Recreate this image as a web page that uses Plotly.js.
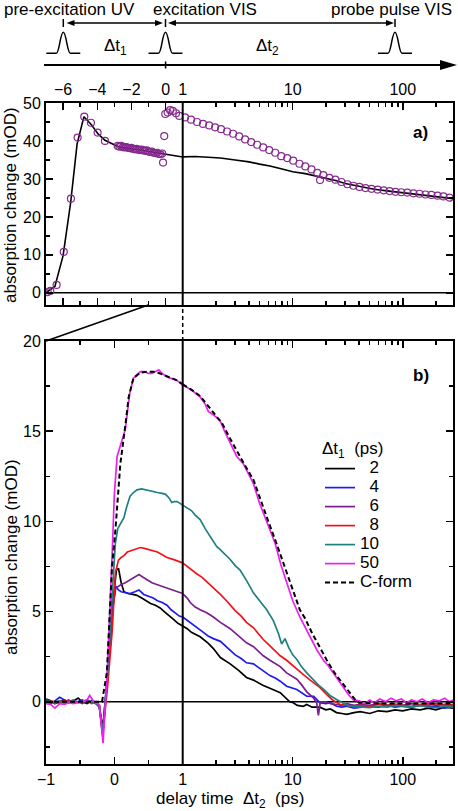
<!DOCTYPE html>
<html><head><meta charset="utf-8">
<script src="https://cdn.plot.ly/plotly-3.0.1.min.js"></script>
<style>html,body{margin:0;padding:0;background:#fff}</style>
</head><body><div id="chart" style="width:458px;height:811px"></div>
<script>
// ---------- Panel a) data (pre-excitation delay Δt1 then Δt2) ----------
const tA_circ = [-6.9,-6.75,-6.38,-5.96,-5.54,-5.15,-4.76,-4.37,-3.98,-3.55,
  -2.8,-2.7,-2.6,-2.5,-2.4,-2.3,-2.2,-2.1,-2.0,-1.9,-1.8,-1.7,-1.6,-1.5,-1.4,-1.3,-1.2,-1.1,-1.0,-0.9,-0.8,-0.7,-0.6,-0.5,-0.4,-0.3,-0.2,
  -0.15,-0.08,-0.02,0.12,0.26,0.42,0.61,0.8,
  1.05,1.19,1.35,1.53,1.74,1.97,2.23,2.53,2.87,3.26,3.69,4.19,4.75,5.39,6.11,6.93,7.86,8.91,10.1,11.5,13.0,14.8,16.7,17.7,19.0,21.5,24.4,27.7,31.4,35.6,40.4,45.8,52,59,67,76,86,97,110,125,142,161,182,207,234,266];
const vA_circ = [0.2,0.5,2.1,10.8,24.8,40.9,46.4,44.8,42.2,40.0,
  38.7,38.5,38.7,38.4,38.3,38.4,38.2,38.1,38.2,37.9,37.8,37.9,37.7,37.6,37.7,37.5,37.4,37.5,37.2,37.1,37.2,36.9,36.8,36.9,36.6,36.5,36.7,
  34.3,41.3,47.1,47.5,48.1,47.9,47.3,46.6,
  46.2,45.6,45.0,44.5,44.1,43.6,43.1,42.5,41.9,41.2,40.4,39.7,39.0,38.3,37.6,36.9,36.0,35.5,34.8,34.0,33.3,32.5,31.6,29.7,31.0,30.3,29.8,29.2,28.6,28.2,27.9,27.6,27.4,27.2,27.0,26.8,26.6,26.5,26.4,26.2,26.1,25.9,25.8,25.6,25.4,25.1];
const tA_line = [-7,-6.48,-6.0,-5.56,-5.18,-4.78,-4.33,-3.94,-3.55,-2.77,-1.5,-0.23,1.0,
  1.3,1.7,2.2,3.0,4.0,5.0,6.2,8.0,10,13,16,20,25,30,40,55,75,100,140,200,286];
const vA_line = [0.1,1.7,9.8,23.7,39.2,46.4,44.2,41.8,40.2,38.5,37.6,36.7,35.8,
  35.9,35.7,35.5,35.0,34.5,33.9,33.4,32.6,31.9,31.4,30.8,30.2,29.5,28.8,28.0,27.3,26.8,26.4,25.9,25.4,24.8];

// ---------- Panel b) data: delay time Δt2 (ps) and absorption change (mOD) ----------
const t_2ps = [-1,-0.93,-0.87,-0.8,-0.73,-0.67,-0.6,-0.53,-0.47,-0.4,-0.33,-0.27,-0.22,-0.17,-0.1,-0.03,0.03,0.06,0.1,0.14,0.2,0.27,0.33,0.4,0.47,0.53,0.6,0.67,0.73,0.8,0.87,0.93,1.0,
  1.1,1.2,1.44,1.7,1.9,2.2,2.7,3.2,3.8,4.4,5.4,6.2,7.7,9.4,10.1,11,12.5,13.4,15,17.6,20,22,25,28,31,36,41,50,60,72,85,100,120,144,170,200,240,286];
const dA_2ps = [0.15,0.05,-0.1,0.0,0.1,-0.05,0.05,0.2,0.0,-0.1,0.05,-0.05,-0.2,-1.5,1.5,5.2,7.3,7.4,6.6,6.1,6.0,5.95,5.9,5.75,5.6,5.45,5.35,5.2,5.0,4.8,4.55,4.35,4.2,
  4.05,3.85,3.6,3.25,2.95,2.45,2.1,1.75,1.35,1.2,0.9,0.75,0.5,0.0,-0.05,-0.2,-0.25,-0.15,-0.3,-0.3,-0.45,-0.4,-0.6,-0.65,-0.7,-0.6,-0.55,-0.65,-0.5,-0.55,-0.45,-0.5,-0.4,-0.45,-0.35,-0.45,-0.3,-0.35];

const t_4ps = [-1,-0.93,-0.87,-0.8,-0.73,-0.67,-0.6,-0.53,-0.47,-0.4,-0.33,-0.27,-0.22,-0.17,-0.1,-0.03,0.02,0.06,0.1,0.16,0.23,0.3,0.36,0.43,0.5,0.57,0.63,0.7,0.77,0.83,0.9,0.95,1.0,
  1.1,1.2,1.34,1.5,1.7,1.9,2.2,2.5,2.7,3.0,3.4,3.8,4.4,5.0,5.4,6.2,7.0,7.7,8.8,10,10.9,13.4,15.5,17.6,20,22,25,28,31,36,41,50,60,72,85,100,120,144,170,200,240,286];
const dA_4ps = [0.0,-0.1,0.05,0.25,0.1,-0.05,0.05,0.0,0.1,-0.05,0.0,-0.1,-0.3,-1.7,1.5,5.0,6.4,6.2,6.1,6.05,6.0,6.1,6.2,5.95,5.85,5.75,5.6,5.5,5.35,5.1,4.9,4.75,4.7,
  4.5,4.35,4.1,3.9,3.65,3.5,3.35,3.05,2.85,2.6,2.4,2.16,2.1,1.85,1.7,1.45,1.3,1.14,0.86,0.75,0.68,0.31,0.3,-0.05,-0.1,-0.05,-0.25,-0.3,-0.25,-0.35,-0.3,-0.25,-0.3,-0.2,-0.3,-0.25,-0.3,-0.2,-0.3,-0.25,-0.35,-0.25];

const t_6ps = [-1,-0.93,-0.87,-0.8,-0.73,-0.67,-0.6,-0.53,-0.47,-0.4,-0.33,-0.27,-0.22,-0.17,-0.1,-0.03,0.02,0.06,0.1,0.16,0.23,0.3,0.36,0.42,0.48,0.55,0.62,0.7,0.77,0.84,0.9,0.95,1.0,
  1.1,1.17,1.3,1.44,1.65,1.9,2.2,2.7,3.0,3.4,3.8,4.4,5.0,5.4,6.2,7.0,7.7,8.8,10,10.9,12,13.4,15.5,16.5,17.1,17.8,20,22,25,28,31,36,41,50,60,72,85,100,120,144,170,200,240,286];
const dA_6ps = [0.05,0.0,-0.1,0.05,0.0,0.1,-0.05,0.0,-0.1,0.05,-0.05,0.0,-0.25,-1.9,1.3,5.0,6.3,6.4,6.5,6.6,6.75,6.9,7.05,6.9,6.75,6.6,6.5,6.4,6.3,6.2,6.15,6.1,6.0,
  5.75,5.5,5.25,5.1,4.93,4.7,4.4,4.05,3.8,3.5,3.27,3.05,2.75,2.55,2.3,2.1,1.95,1.6,1.4,1.25,0.95,0.55,0.2,-0.05,-0.75,0.0,0.0,-0.1,-0.15,-0.2,-0.1,-0.2,-0.15,-0.2,-0.1,-0.2,-0.15,-0.2,-0.1,-0.2,-0.1,-0.2,-0.15,-0.2];

const t_8ps = [-1,-0.93,-0.87,-0.8,-0.73,-0.67,-0.6,-0.53,-0.47,-0.4,-0.33,-0.27,-0.22,-0.17,-0.1,-0.03,0.015,0.06,0.1,0.14,0.19,0.26,0.32,0.38,0.44,0.5,0.56,0.63,0.7,0.77,0.87,0.93,1.0,
  1.1,1.2,1.34,1.5,1.7,1.9,2.2,2.5,2.7,3.0,3.4,3.8,4.4,5.0,5.4,6.2,7.0,7.7,8.8,10,10.9,12.5,14.4,15.5,17.6,20.4,23,27,31,36,41,50,60,72,85,100,120,144,170,200,240,286];
const dA_8ps = [-0.05,0.05,0.0,-0.1,0.05,0.0,0.1,-0.05,0.0,0.05,-0.1,0.0,-0.2,-1.8,0.8,4.0,7.15,7.85,8.0,8.1,8.3,8.4,8.5,8.55,8.5,8.45,8.4,8.3,8.15,8.0,7.88,7.8,7.7,
  7.5,7.3,7.1,6.9,6.6,6.3,5.95,5.6,5.35,5.05,4.75,4.4,4.1,3.7,3.45,3.1,2.8,2.55,2.3,2.0,1.8,1.5,1.2,1.05,0.8,0.4,0.1,-0.15,-0.2,-0.25,-0.2,-0.25,-0.15,-0.2,-0.15,-0.2,-0.25,-0.15,-0.2,-0.1,-0.2,-0.15];

const t_10ps = [-1,-0.93,-0.87,-0.8,-0.73,-0.67,-0.6,-0.53,-0.47,-0.4,-0.33,-0.27,-0.22,-0.17,-0.1,-0.03,0.015,0.05,0.1,0.14,0.18,0.23,0.28,0.33,0.4,0.45,0.52,0.57,0.63,0.7,0.75,0.8,0.84,0.88,0.92,0.96,1.0,
  1.1,1.2,1.3,1.44,1.6,1.77,2.04,2.18,2.4,2.69,3.0,3.32,3.82,4.39,5.0,5.8,6.66,7.4,7.93,8.5,9.2,10,10.9,12,13.4,14.4,16,17.6,19,21.8,25,29,33,40,50,60,72,85,101,120,144,170,204,240,286];
const dA_10ps = [0.1,0.0,-0.05,0.05,-0.1,0.0,0.05,-0.05,0.0,0.1,0.0,-0.1,-0.2,-1.8,1.5,6.0,8.8,9.6,9.9,10.2,10.8,11.4,11.6,11.75,11.8,11.75,11.7,11.65,11.6,11.55,11.5,11.3,11.05,11.1,11.1,11.0,10.9,
  10.75,10.6,10.35,10.1,9.6,9.2,8.6,8.45,8.2,7.9,7.55,7.3,6.7,6.04,5.6,5.1,4.5,3.8,3.2,3.5,3.0,2.6,2.34,1.95,1.6,1.4,1.1,0.86,0.7,0.35,0.13,-0.1,-0.25,-0.3,-0.33,-0.25,-0.3,-0.2,-0.25,-0.3,-0.2,-0.3,-0.33,-0.25,-0.3];

const t_50ps = [-1,-0.93,-0.87,-0.8,-0.73,-0.67,-0.6,-0.53,-0.47,-0.4,-0.36,-0.3,-0.22,-0.165,-0.1,-0.03,0.0,0.04,0.1,0.16,0.225,0.28,0.33,0.38,0.44,0.5,0.55,0.6,0.65,0.7,0.77,0.85,0.92,1.0,
  1.12,1.25,1.44,1.6,1.71,1.9,2.18,2.4,2.69,3.1,3.55,4.0,4.39,5.0,6.0,6.9,7.8,8.8,10,11.6,13,14.4,16.5,19,21,23.4,26,28.8,32,35.6,40,45,50,55,62,70,78,87,97,108,120,135,150,170,190,215,240,265,286];
const dA_50ps = [-0.1,-0.15,-0.35,-0.1,-0.15,-0.05,-0.1,-0.05,0.0,0.1,0.35,0.0,-0.15,-2.3,2.0,8.4,11.5,13.6,14.3,15.1,17.1,17.95,18.1,18.3,18.3,18.2,18.2,18.3,18.4,18.2,18.0,17.9,17.8,17.55,
  17.4,17.2,16.9,16.5,16.1,15.9,15.6,15.0,14.35,13.6,13.2,12.6,12.1,11.0,9.7,8.8,7.6,6.6,5.6,4.7,4.1,3.6,2.9,2.3,2.0,1.6,1.2,0.86,0.4,0.1,0.05,-0.1,0.1,-0.05,0.15,0.0,0.2,0.05,0.15,-0.05,0.1,0.0,0.15,-0.05,0.1,0.05,0.2,0.0,0.1];

const t_Cform = [-1,-0.6,-0.25,-0.18,-0.11,-0.034,0.015,0.088,0.16,0.21,0.28,0.38,0.5,0.6,0.7,0.8,0.9,1.0,
  1.2,1.44,1.7,2.0,2.3,2.69,3.1,3.6,4.4,5.0,6.0,7.0,8.0,9.0,10,11.6,13,15,17,20.4,24,27,30,33,37,40,60,100,150,286];
const dA_Cform = [0.0,0.0,0.0,0.0,1.6,7.5,9.5,13.2,15.3,16.9,17.95,18.25,18.3,18.3,18.15,18.0,17.85,17.6,
  17.3,16.95,16.4,15.9,15.4,14.6,13.9,13.2,12.3,11.4,10.0,8.9,7.9,7.0,6.3,5.1,4.6,3.8,3.2,2.3,1.6,1.2,0.85,0.5,0.1,-0.05,-0.1,-0.1,-0.1,-0.1];

const legendNames = ['\u20072','\u20074','\u20076','\u20078','10','50','C-form'];
const seriesT = [t_2ps,t_4ps,t_6ps,t_8ps,t_10ps,t_50ps,t_Cform];
const seriesV = [dA_2ps,dA_4ps,dA_6ps,dA_8ps,dA_10ps,dA_50ps,dA_Cform];
const colors = ['#000000','#1c1cf0','#7a1f8c','#f0141a','#1f8080','#f01ef0','#000000'];
const dashes = ['solid','solid','solid','solid','solid','solid','5px,3px'];

const tickLinB = [-1,0,1], tickLogB = [10,100];
const tickLinA = [-6,-4,-2,0], tickLogA = [1,10,100];

// ---------- geometry helpers (pixel -> paper) ----------
const W = 458, H = 811, ML = 46, MR = 5, MT = 103, MB = 47;
const PW = W-ML-MR, PH = H-MT-MB;
const px = X => (X-ML)/PW;
const py = Y => (H-MB-Y)/PH;
const dLin = px(182.7);
const domA = [py(305), 1];
const domB = [0, py(341)];
const FONT = '"Liberation Sans", Arial, Helvetica, sans-serif';

function part(t, v, lin){
  const x=[], y=[];
  t.forEach((ti,i)=>{ if(lin ? ti<=1 : ti>=1){ x.push(ti); y.push(v[i]); } });
  return {x,y};
}

const traces = [];
// panel a
[true,false].forEach(lin=>{
  const l = part(tA_line, vA_line, lin);
  traces.push({type:'scatter', mode:'lines', x:l.x, y:l.y, xaxis: lin?'x3':'x4', yaxis:'y2',
    line:{color:'#000', width:1.6}, showlegend:false, hoverinfo:'skip'});
  const c = part(tA_circ, vA_circ, lin);
  traces.push({type:'scatter', mode:'markers', x:c.x, y:c.y, xaxis: lin?'x3':'x4', yaxis:'y2',
    marker:{symbol:'circle-open', size:7, color:'#86298f', line:{width:1.2, color:'#86298f'}}, showlegend:false, hoverinfo:'skip'});
});
// panel b
[true,false].forEach(lin=>{
  seriesT.forEach((t,i)=>{
    const p = part(t, seriesV[i], lin);
    traces.push({type:'scatter', mode:'lines', x:p.x, y:p.y, xaxis: lin?'x':'x2', yaxis:'y',
      name:'<span style="font-size:17px">'+legendNames[i]+'</span>', showlegend: lin,
      line:{color:colors[i], width: i===6?2:1.7, dash:dashes[i]}, hoverinfo:'skip'});
  });
});
traces.push({type:'scatter', x:[], y:[], xaxis:'x2', yaxis:'y3', showlegend:false});
traces.push({type:'scatter', x:[], y:[], xaxis:'x4', yaxis:'y4', showlegend:false});

const axBase = {showgrid:false, zeroline:false, showline:true, linewidth:2, linecolor:'#000',
  ticks:'inside', ticklen:7, tickwidth:1.5, tickcolor:'#000', tickfont:{size:16, family:FONT, color:'#000'}};
const minorB = (vals)=>({tickmode:'array', tickvals:vals, ticks:'inside', ticklen:4, tickwidth:1.5, tickcolor:'#000'});
const logMinor = [2,3,4,5,6,7,8,9,20,30,40,50,60,70,80,90,200];

const layout = {
  width:W, height:H, margin:{l:ML, r:MR, t:MT, b:MB},
  paper_bgcolor:'#fff', plot_bgcolor:'rgba(0,0,0,0)',
  font:{family:FONT, size:16, color:'#000'},
  showlegend:true,
  legend:{x:px(320), y:py(432), xanchor:'left', yanchor:'top', bgcolor:'rgba(0,0,0,0)', borderwidth:0,
    font:{size:12, family:FONT}, title:{text:'\u0394t<sub>1</sub>\u00a0\u00a0(ps)', font:{size:17, family:FONT}}, tracegroupgap:0},
  xaxis: Object.assign({}, axBase, {domain:[0,dLin], anchor:'y', range:[-1,1], tickmode:'array', tickvals:tickLinB, mirror:'ticks', minor:minorB([-0.5,0.5])}),
  xaxis2: Object.assign({}, axBase, {domain:[dLin,1], anchor:'y', type:'log', range:[0, Math.log10(286)], tickmode:'array', tickvals:tickLogB, mirror:'ticks', minor:minorB(logMinor)}),
  yaxis: Object.assign({}, axBase, {domain:domB, anchor:'x', range:[-3.45,20], tickmode:'array', tickvals:[0,5,10,15,20], mirror:false, minor:minorB([-2.5,2.5,7.5,12.5,17.5])}),
  yaxis3: Object.assign({}, axBase, {overlaying:'y', anchor:'x2', side:'right', range:[-3.45,20], tickmode:'array', tickvals:[0,5,10,15,20], showticklabels:false, minor:minorB([-2.5,2.5,7.5,12.5,17.5])}),
  xaxis3: Object.assign({}, axBase, {domain:[0,dLin], anchor:'y2', side:'top', range:[-7,1], tickmode:'array', tickvals:tickLinA, mirror:'ticks', minor:minorB([-7,-5,-3,-1])}),
  xaxis4: Object.assign({}, axBase, {domain:[dLin,1], anchor:'y2', side:'top', type:'log', range:[0, Math.log10(286)], tickmode:'array', tickvals:tickLogA, mirror:'ticks', minor:minorB(logMinor)}),
  yaxis2: Object.assign({}, axBase, {domain:domA, anchor:'x3', range:[-3.2,50], tickmode:'array', tickvals:[0,10,20,30,40,50], mirror:false, minor:minorB([5,15,25,35,45])}),
  yaxis4: Object.assign({}, axBase, {overlaying:'y2', anchor:'x4', side:'right', range:[-3.2,50], tickmode:'array', tickvals:[0,10,20,30,40,50], showticklabels:false, minor:minorB([5,15,25,35,45])}),
  shapes: [],
  annotations: []
};

const S = layout.shapes, A = layout.annotations;
const blk = {color:'#000', width:1.5};
// zero lines and t2 = 1 dividers
S.push({type:'line', xref:'paper', yref:'y', x0:0, x1:1, y0:0, y1:0, line:blk, layer:'below'});
S.push({type:'line', xref:'paper', yref:'y2', x0:0, x1:1, y0:0, y1:0, line:blk, layer:'below'});
S.push({type:'line', xref:'paper', yref:'paper', x0:dLin, x1:dLin, y0:domB[0], y1:domB[1], line:{color:'#000', width:2}});
S.push({type:'line', xref:'paper', yref:'paper', x0:dLin, x1:dLin, y0:domA[0], y1:domA[1], line:{color:'#000', width:2}});
// zoom connectors
S.push({type:'line', xref:'paper', yref:'paper', x0:px(148.3), y0:py(305), x1:px(46), y1:py(341), line:blk});
S.push({type:'line', xref:'paper', yref:'paper', x0:dLin, y0:py(309), x1:dLin, y1:py(339), line:{color:'#000', width:1.5, dash:'4px,3px'}});
// schematic: time arrow
S.push({type:'line', xref:'paper', yref:'paper', x0:px(44), y0:py(65), x1:px(442), y1:py(65), line:{color:'#000', width:2}});
S.push({type:'path', xref:'paper', yref:'paper', path:`M${px(440)},${py(60)} L${px(457)},${py(65)} L${px(440)},${py(70)} Z`, fillcolor:'#000', line:{width:0}});
S.push({type:'line', xref:'paper', yref:'paper', x0:px(165.6), x1:px(165.6), y0:py(61.5), y1:py(68.5), line:blk});
// pulse markers and pulses
[63.3,165.5,395].forEach(c=>{
  S.push({type:'line', xref:'paper', yref:'paper', x0:px(c), x1:px(c), y0:py(19), y1:py(27), line:blk});
  const yb = 53.3, yt = 32.3;
  const path = `M${px(c-17)},${py(yb)} L${px(c-7)},${py(yb)} C${px(c-4)},${py(yb)} ${px(c-3)},${py(yt)} ${px(c)},${py(yt)} C${px(c+3)},${py(yt)} ${px(c+4)},${py(yb)} ${px(c+7)},${py(yb)} L${px(c+17)},${py(yb)}`;
  S.push({type:'path', xref:'paper', yref:'paper', path:path, line:blk});
});
// double arrows (line + two filled heads)
function dblArrow(x1, x2, y){
  S.push({type:'line', xref:'paper', yref:'paper', x0:px(x1+3), x1:px(x2-3), y0:py(y), y1:py(y), line:{color:'#000', width:1.3}});
  S.push({type:'path', xref:'paper', yref:'paper', path:`M${px(x1)},${py(y)} L${px(x1+8)},${py(y-3)} L${px(x1+8)},${py(y+3)} Z`, fillcolor:'#000', line:{width:0}});
  S.push({type:'path', xref:'paper', yref:'paper', path:`M${px(x2)},${py(y)} L${px(x2-8)},${py(y-3)} L${px(x2-8)},${py(y+3)} Z`, fillcolor:'#000', line:{width:0}});
}
dblArrow(66.5, 163, 23);
dblArrow(168, 394, 23);

function txt(text, X, Y, xanchor, size, extra){
  A.push(Object.assign({xref:'paper', yref:'paper', x:px(X), y:py(Y), xanchor:xanchor||'center', yanchor:'middle',
    showarrow:false, text:text, borderpad:0, borderwidth:0, font:{size:size||17, family:FONT, color:'#000'}}, extra||{}));
}
txt('pre-excitation UV', 135, 0, 'right', 17, {yanchor:'top'});
txt('excitation VIS', 153, 0, 'left', 17, {yanchor:'top'});
txt('probe pulse VIS', 452, 0, 'right', 17, {yanchor:'top'});
txt('\u0394t<sub>1</sub>', 115, 47, 'center');
txt('\u0394t<sub>2</sub>', 267, 47, 'center');
txt('<b>a)</b>', 420, 132, 'center');
txt('<b>b)</b>', 420.5, 375, 'center');
txt('delay time \u00a0\u0394t<sub>2</sub>\u00a0 (ps)', 230, 800, 'center');
txt('absorption change (mOD)', 11, 205, 'center', 17, {textangle:-90});
txt('absorption change (mOD)', 11, 557, 'center', 17, {textangle:-90});

Plotly.newPlot('chart', traces, layout, {displayModeBar:false, staticPlot:true});
</script></body></html>
